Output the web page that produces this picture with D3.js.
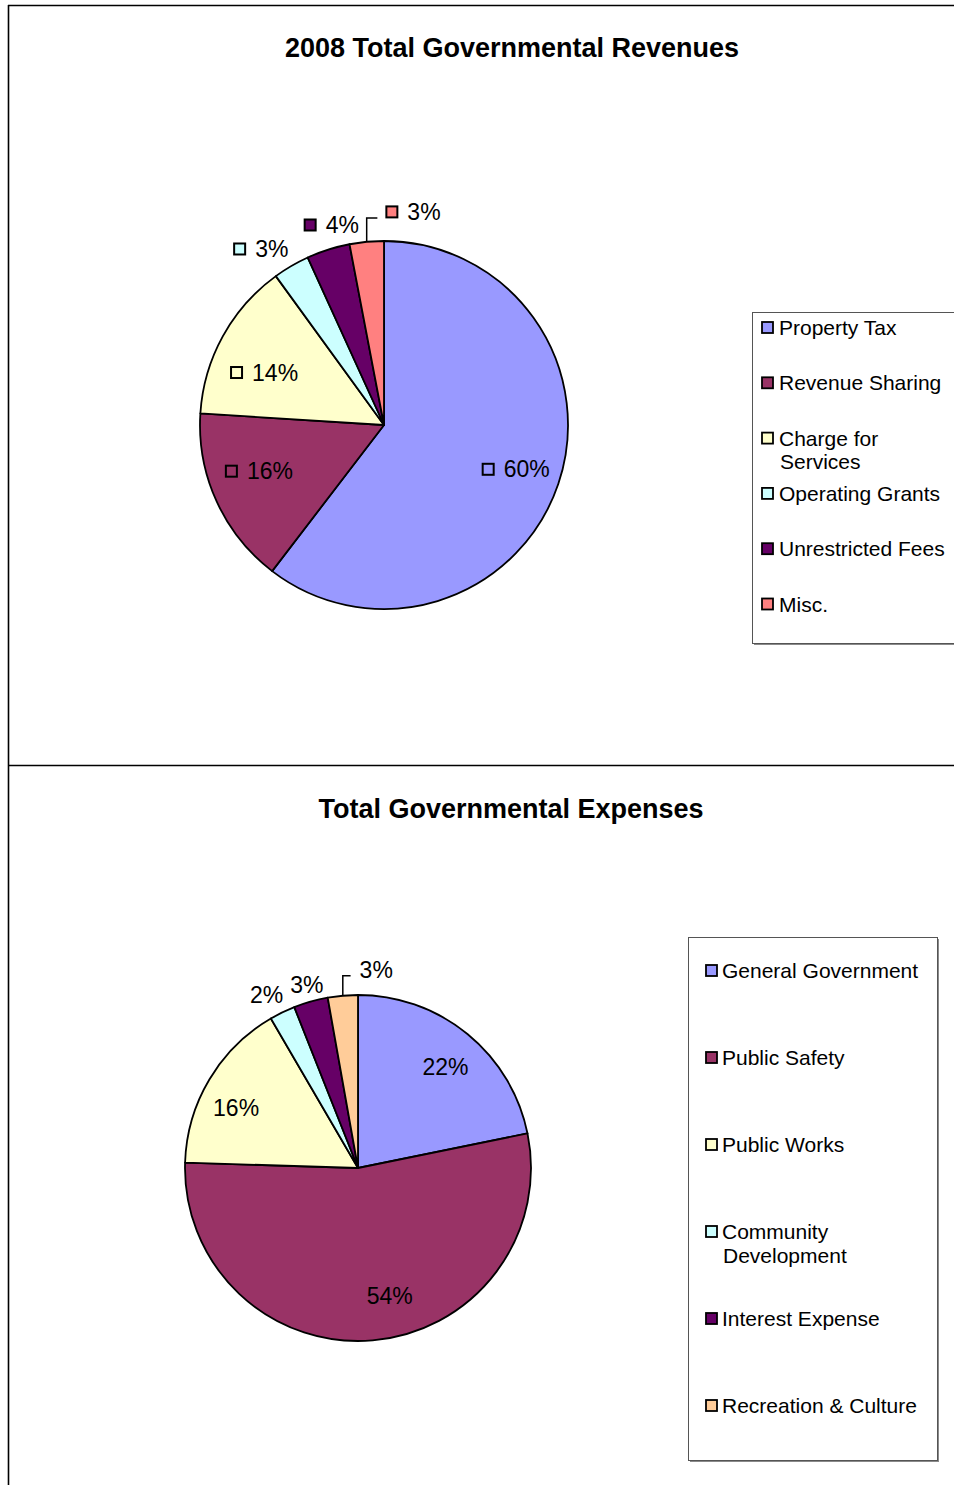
<!DOCTYPE html>
<html>
<head>
<meta charset="utf-8">
<script src="https://cdn.jsdelivr.net/npm/d3@7"></script>
<style>
  html, body { margin: 0; padding: 0; background: #fff; }
  svg { display: block; }
  text { font-family: "Liberation Sans", Arial, sans-serif; fill: #000; }
</style>
</head>
<body>
<svg id="chart" width="954" height="1485"></svg>
<script>
// ---------- DATA ----------
const revTitle = "2008 Total Governmental Revenues";
const revCategories = ["Property Tax", "Revenue Sharing", "Charge for\nServices", "Operating Grants", "Unrestricted Fees", "Misc."];
const revValues = [60.4, 15.6, 14.0, 3.2, 3.8, 3.0];
const revColors = ["#9999FF", "#993366", "#FFFFCC", "#CCFFFF", "#660066", "#FF8080"];

const expTitle = "Total Governmental Expenses";
const expCategories = ["General Government", "Public Safety", "Public Works", "Community\nDevelopment", "Interest Expense", "Recreation & Culture"];
const expValues = [21.8, 53.7, 16.1, 2.4, 3.2, 2.8];
const expColors = ["#9999FF", "#993366", "#FFFFCC", "#CCFFFF", "#660066", "#FFCC99"];

// ---------- LAYOUT ----------
const svg = d3.select("#chart");
const fmt = d3.format(".0%");

// outer frame
const frame = svg.append("g").attr("stroke", "#000").attr("stroke-width", 1.6);
frame.append("line").attr("x1", 8.5).attr("y1", 5).attr("x2", 8.5).attr("y2", 1485);
frame.append("line").attr("x1", 8).attr("y1", 5.5).attr("x2", 954).attr("y2", 5.5);
frame.append("line").attr("x1", 8).attr("y1", 765.5).attr("x2", 954).attr("y2", 765.5);

const charts = [
  {
    title: revTitle, titleX: 512, titleY: 57,
    cats: revCategories, vals: revValues, colors: revColors,
    cx: 384, cy: 425, r: 184,
    withKeys: true, inFactor: 0.75,
    inside: [true, true, true, false, false, false],
    leader: [false, false, false, false, false, true],
    nudge: [[1.5, 0], [1, -11], [1.5, 14], [-21, -1.5], [9, -7.5], [48.5, -12]],
    legend: { x: 752, y: 312, w: 230, h: 331, keyX: 762, textX: 779, firstY: 327.5, step: 55.3, lineH: 23 }
  },
  {
    title: expTitle, titleX: 511, titleY: 818,
    cats: expCategories, vals: expValues, colors: expColors,
    cx: 358, cy: 1168, r: 173,
    withKeys: false, inFactor: 0.8,
    inside: [true, true, true, false, false, false],
    leader: [false, false, false, false, false, true],
    nudge: [[0, 6], [20, -10], [-3, 11], [-8, -1], [1, 1], [35, -8]],
    legend: { x: 688, y: 937, w: 249, h: 523, keyX: 706, textX: 722, firstY: 970.5, step: 87, lineH: 24 }
  }
];

charts.forEach(c => {
  // title
  svg.append("text")
    .attr("x", c.titleX).attr("y", c.titleY)
    .attr("text-anchor", "middle")
    .attr("font-size", 27).attr("font-weight", "bold")
    .text(c.title);

  const total = d3.sum(c.vals);
  const pie = d3.pie().sort(null).value(d => d).startAngle(0).endAngle(2 * Math.PI);
  const arcs = pie(c.vals);
  const arc = d3.arc().innerRadius(0).outerRadius(c.r);

  const g = svg.append("g").attr("transform", `translate(${c.cx},${c.cy})`);
  g.selectAll("path.slice").data(arcs).join("path")
    .attr("class", "slice")
    .attr("d", arc)
    .attr("fill", (d, i) => c.colors[i])
    .attr("stroke", "#000")
    .attr("stroke-width", 1.8)
    .attr("stroke-linejoin", "round");

  // labels
  const inArc = d3.arc().innerRadius(c.r * c.inFactor).outerRadius(c.r * c.inFactor);
  const outArc = d3.arc().innerRadius(c.r + 18).outerRadius(c.r + 18);
  const edgeArc = d3.arc().innerRadius(c.r).outerRadius(c.r);

  arcs.forEach((d, i) => {
    const base = (c.inside[i] ? inArc : outArc).centroid(d);
    const lx = base[0] + c.nudge[i][0];
    const ly = base[1] + c.nudge[i][1];
    const label = fmt(d.value / total);
    const lg = g.append("g");
    const t = lg.append("text").attr("font-size", 23).text(label);
    const tw = t.node().getComputedTextLength();
    const keyS = 11, gap = 10;
    const groupW = c.withKeys ? keyS + gap + tw : tw;
    const left = lx - groupW / 2;
    if (c.withKeys) {
      lg.append("rect")
        .attr("x", left).attr("y", ly - keyS / 2)
        .attr("width", keyS).attr("height", keyS)
        .attr("fill", c.colors[i]).attr("stroke", "#000").attr("stroke-width", 2);
    }
    t.attr("x", left + (c.withKeys ? keyS + gap : 0)).attr("y", ly + 8.2);

    if (c.leader[i]) {
      const e = edgeArc.centroid(d);
      const yTurn = ly + 6;
      const xEnd = left - 9;
      g.append("path")
        .attr("d", `M${e[0]},${e[1]}V${yTurn}H${xEnd}`)
        .attr("fill", "none").attr("stroke", "#000").attr("stroke-width", 1.5);
    }
  });

  // legend
  const L = c.legend;
  svg.append("rect")
    .attr("x", L.x + 2).attr("y", L.y + 2).attr("width", L.w).attr("height", L.h)
    .attr("fill", "#8a8a8a");
  svg.append("rect")
    .attr("x", L.x + 0.5).attr("y", L.y + 0.5).attr("width", L.w).attr("height", L.h)
    .attr("fill", "#fff").attr("stroke", "#555").attr("stroke-width", 1);

  c.cats.forEach((name, i) => {
    const y = L.firstY + i * L.step;
    svg.append("rect")
      .attr("x", L.keyX).attr("y", y - 5.5)
      .attr("width", 11).attr("height", 11)
      .attr("fill", c.colors[i]).attr("stroke", "#000").attr("stroke-width", 1.8);
    const txt = svg.append("text").attr("font-size", 21);
    name.split("\n").forEach((line, j) => {
      txt.append("tspan")
        .attr("x", L.textX + (j > 0 ? 1 : 0))
        .attr("y", y + 7.5 + j * L.lineH)
        .text(line);
    });
  });
});
</script>
</body>
</html>
